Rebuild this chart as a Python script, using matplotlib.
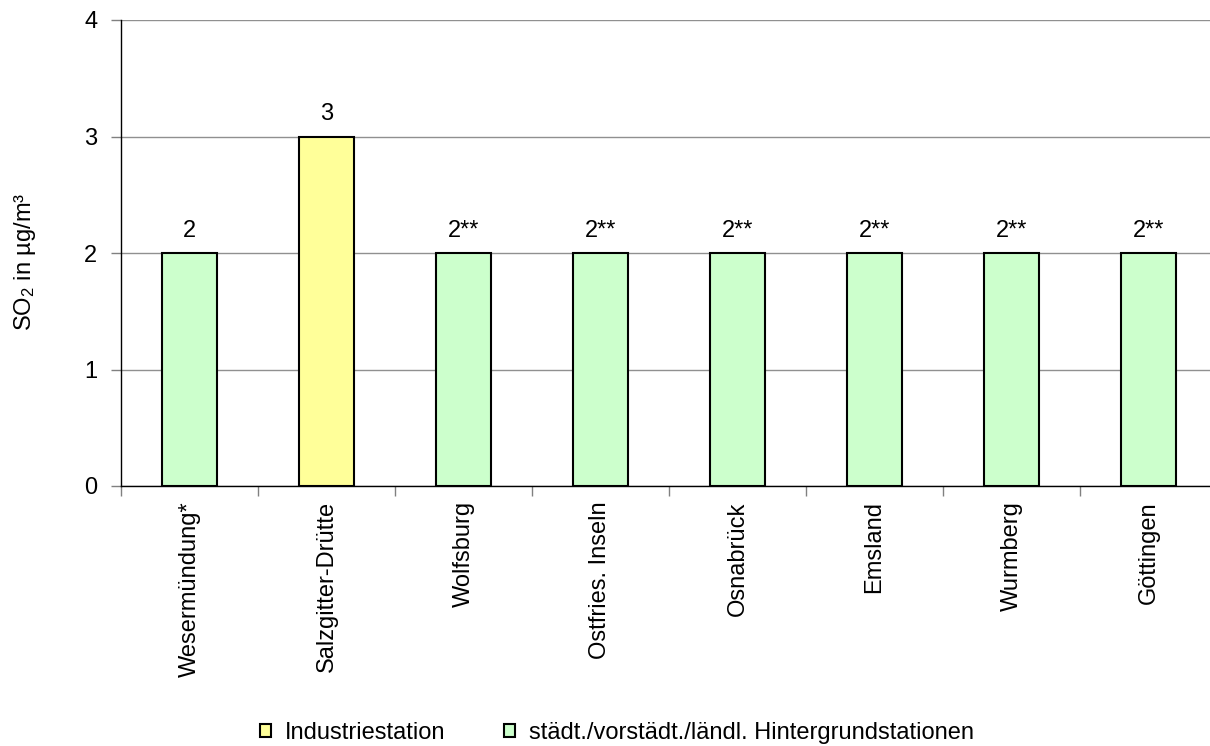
import matplotlib.pyplot as plt
from matplotlib.patches import Patch
from matplotlib.ticker import FixedLocator

plt.rcParams['font.family'] = ['Liberation Sans', 'DejaVu Sans']
plt.rcParams['mathtext.fontset'] = 'custom'
plt.rcParams['mathtext.rm'] = 'Liberation Sans'
plt.rcParams['mathtext.it'] = 'Liberation Sans'

stations = ['Wesermündung*', 'Salzgitter-Drütte', 'Wolfsburg', 'Ostfries. Inseln',
            'Osnabrück', 'Emsland', 'Wurmberg', 'Göttingen']
values = [2, 3, 2, 2, 2, 2, 2, 2]
value_labels = ['2', '3', '2**', '2**', '2**', '2**', '2**', '2**']
station_type = ['hintergrund', 'industrie', 'hintergrund', 'hintergrund',
                'hintergrund', 'hintergrund', 'hintergrund', 'hintergrund']

colors = {'industrie': '#FFFF99', 'hintergrund': '#CCFFCC'}
legend_labels = {'industrie': 'Industriestation',
                 'hintergrund': 'städt./vorstädt./ländl. Hintergrundstationen'}

fs = 17

fig = plt.figure(figsize=(12.1, 7.46), dpi=100)
ax = fig.add_axes([121 / 1210, 260 / 746, 1096 / 1210, 466 / 746])

xs = range(len(stations))
bars = ax.bar(xs, values, width=0.4, color=[colors[t] for t in station_type],
              edgecolor='black', linewidth=1.5, zorder=3)

for b, lab in zip(bars, value_labels):
    ax.annotate(lab, (b.get_x() + b.get_width() / 2, b.get_height()),
                xytext=(0, 8), textcoords='offset points',
                ha='center', va='bottom', fontsize=fs)

ax.set_xlim(-0.5, len(stations) - 0.5)
ax.set_ylim(0, 4)
ax.set_yticks([0, 1, 2, 3, 4])
ax.yaxis.grid(True, color='#909090', linewidth=1, zorder=0)
ax.set_axisbelow(True)

ax.set_xticks(list(xs))
ax.set_xticklabels(stations, rotation=90, fontsize=fs)
ax.xaxis.set_minor_locator(FixedLocator([i - 0.5 for i in range(len(stations) + 1)]))
ax.tick_params(axis='x', which='major', length=0, pad=11)
ax.tick_params(axis='x', which='minor', length=7, color='#808080', width=1)
ax.tick_params(axis='y', length=7, color='#808080', width=1, labelsize=fs, pad=10)

for s in ['top', 'right']:
    ax.spines[s].set_visible(False)
ax.spines['left'].set_linewidth(1)
ax.spines['bottom'].set_linewidth(1)

ax.set_ylabel('SO$_2$ in µg/m³', fontsize=fs)
ax.yaxis.set_label_coords(-0.076, 0.48)

handles = [Patch(facecolor=colors[k], edgecolor='black', linewidth=1.5, label=legend_labels[k])
           for k in ['industrie', 'hintergrund']]
fig.legend(handles=handles, loc='center', bbox_to_anchor=(617 / 1210, 1 - 733 / 746),
           ncol=2, frameon=False, fontsize=fs, handlelength=0.45, handleheight=0.45,
           handletextpad=0.6, columnspacing=2.5, borderpad=0)

fig.savefig('out.png', dpi=100)
